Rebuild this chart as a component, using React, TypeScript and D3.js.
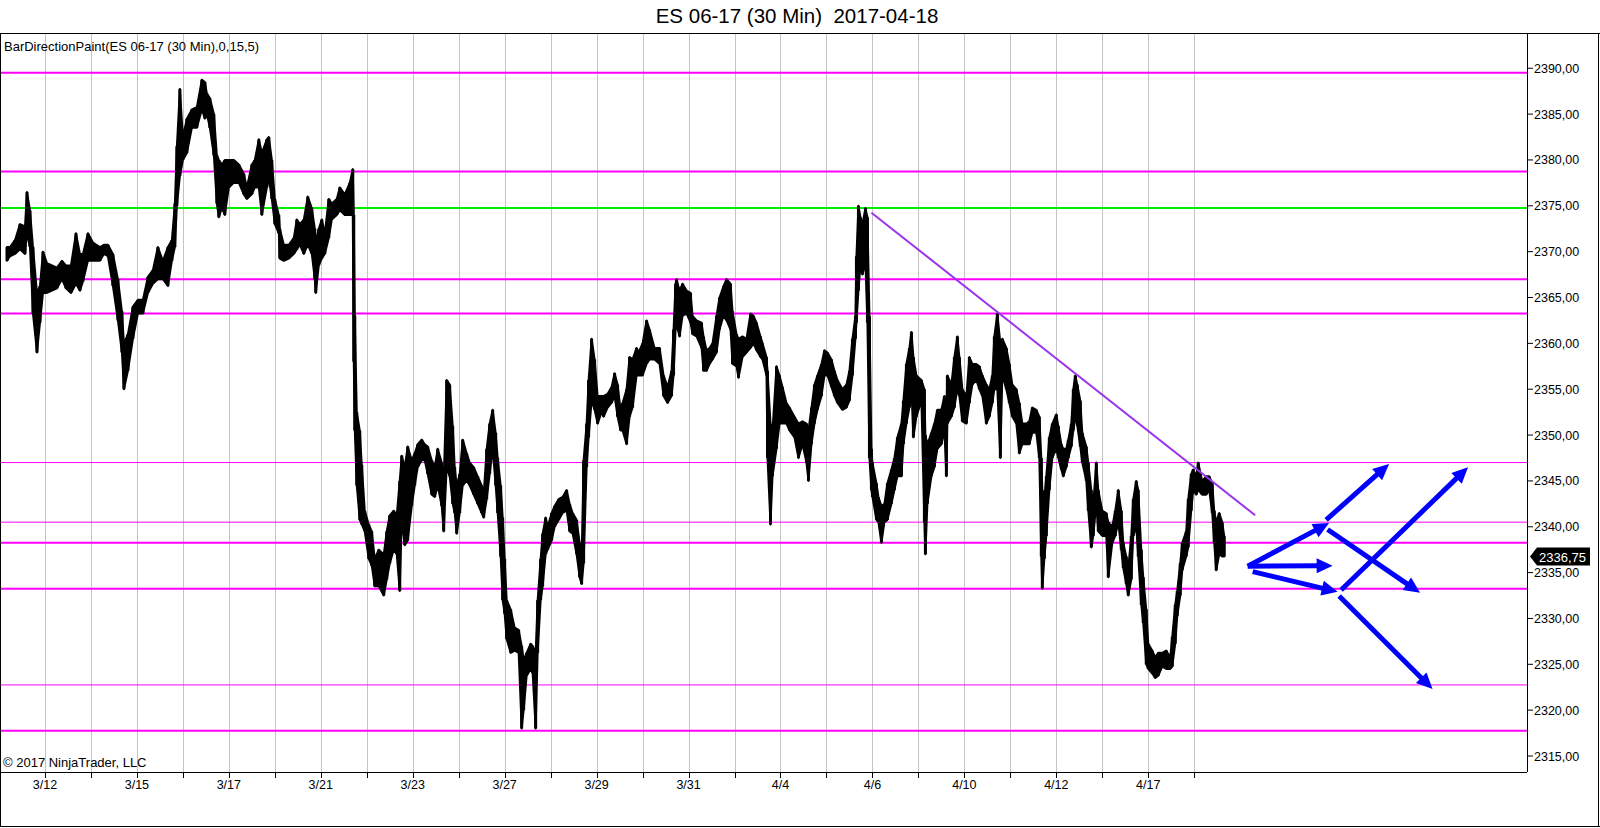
import React from "react";
import * as d3 from "d3";

const title = "ES 06-17 (30 Min)  2017-04-18";
const indicatorLabel = "BarDirectionPaint(ES 06-17 (30 Min),0,15,5)";
const copyright = "© 2017 NinjaTrader, LLC";

// price samples: [bar number (30 min bars from start), high, low]
const wk1: [number, number, number][] = [
  [2, 2370.5, 2369], [5, 2370.5, 2369.5], [10, 2371.25, 2369.75], [15, 2373, 2370.25],
  [20, 2372.75, 2369.75], [22, 2376.5, 2372], [25, 2374.5, 2370.5], [28, 2370.5, 2363.25],
  [32, 2365.5, 2359], [35, 2366.25, 2362.25], [38, 2370, 2365.5], [42, 2368.75, 2365.5],
  [47, 2368.5, 2365.75], [52, 2368.25, 2366], [57, 2369, 2367], [61, 2368.5, 2366],
  [66, 2368.5, 2365.5], [71, 2372, 2366.5], [75, 2369.75, 2365.75], [78, 2369.75, 2366.75],
  [83, 2372, 2369], [88, 2371, 2369], [95, 2370.5, 2369], [99, 2370.75, 2369.75],
  [103, 2370.75, 2369.5], [108, 2369.75, 2366.25], [113, 2367, 2362.5], [117, 2363.5, 2359],
  [119, 2360, 2355], [123, 2361, 2357], [128, 2364, 2360.5], [133, 2364.75, 2363.25],
  [138, 2364.75, 2363.25], [143, 2367.25, 2365.5], [148, 2368, 2366.5], [153, 2370.5, 2367],
  [158, 2369, 2367], [163, 2370.5, 2366.25], [167, 2371.25, 2369], [170, 2375.25, 2370.5],
  [172, 2381.5, 2375], [175, 2387.75, 2378.25], [178, 2382.5, 2380], [182, 2384.5, 2380.75],
  [187, 2385.5, 2383.5], [192, 2385.75, 2383.5], [197, 2388.75, 2385.5], [200, 2388.5, 2384.5],
  [202, 2387.25, 2385], [205, 2386.75, 2383.5], [209, 2385, 2380.5], [212, 2380.5, 2375.25],
  [214, 2380, 2373.75], [217, 2379.5, 2374.75], [220, 2380, 2374], [224, 2380, 2377],
  [229, 2380, 2377.5], [234, 2379.5, 2377.5], [239, 2378.5, 2376.25], [242, 2377, 2375.75],
  [247, 2379.5, 2376.25], [250, 2380, 2377], [254, 2382.25, 2377], [257, 2380.75, 2374],
  [262, 2382.25, 2377], [264, 2382.5, 2378], [267, 2380, 2375.75],
];

const wk2: [number, number, number][] = [
  [270, 2375.75, 2373], [274, 2374, 2372], [275, 2372.5, 2369.25], [279, 2370.75, 2369],
  [284, 2370.75, 2369.25], [289, 2371.5, 2369.75], [292, 2373.5, 2370.25], [295, 2373, 2370.75],
  [299, 2373.5, 2369.75], [303, 2376, 2370.75], [307, 2374.75, 2369.75], [310, 2372.5, 2367],
  [311, 2371, 2365.5], [314, 2372.5, 2368.5], [317, 2373.5, 2369.25], [320, 2372, 2369.75],
  [324, 2375.75, 2371.5], [327, 2375.25, 2373.5], [332, 2375.75, 2374], [335, 2377, 2374.5],
  [340, 2376.25, 2374], [345, 2377.5, 2374], [348, 2379, 2374], [349, 2374, 2358],
  [350, 2363, 2350.5], [352, 2352.5, 2344.5], [355, 2350.5, 2340.75], [357, 2346.75, 2340.25],
  [360, 2341.75, 2339.5], [364, 2340.25, 2336.5], [367, 2339.5, 2335.75], [370, 2336.5, 2333.5],
  [374, 2337.5, 2333.5], [379, 2337, 2332.5], [382, 2339.5, 2334.25], [385, 2341.25, 2336],
  [389, 2341.75, 2337.5], [392, 2341.25, 2337], [395, 2345, 2333], [397, 2347.75, 2340.75],
  [400, 2346.5, 2338], [403, 2348.75, 2338.5], [407, 2347.25, 2342.25], [410, 2348, 2344.5],
  [413, 2349, 2346.5], [417, 2349.5, 2347.25], [420, 2349, 2347.25], [423, 2348.75, 2345.75],
  [427, 2347.25, 2343.5], [430, 2346.5, 2343.25], [433, 2348.5, 2344.5], [437, 2347, 2342.25],
  [439, 2345, 2339.5], [442, 2356, 2346.5], [445, 2355.5, 2345.5], [448, 2351, 2342.5],
  [450, 2346.5, 2341.5], [452, 2344.5, 2339.25], [455, 2345.75, 2341.5], [458, 2349.5, 2344.5],
  [462, 2348, 2345], [465, 2347, 2344.5], [469, 2346.5, 2343.5], [473, 2345.5, 2342.5],
  [477, 2344.5, 2341.5], [479, 2343.5, 2341], [482, 2348.5, 2343], [485, 2351.25, 2345.75],
  [488, 2352.75, 2348.5], [491, 2350.25, 2344.5], [493, 2347.5, 2341.5], [496, 2344.5, 2336.75],
  [498, 2341, 2332],
];

const wk3: [number, number, number][] = [
  [500, 2336.5, 2330.5], [502, 2332, 2327.75], [506, 2331, 2326.25], [510, 2329, 2326.5],
  [514, 2328.75, 2326.25], [517, 2327, 2318], [519, 2325.5, 2320], [522, 2326.25, 2323.75],
  [526, 2327.25, 2324.5], [528, 2327, 2324], [531, 2326.25, 2318], [533, 2332, 2326.25],
  [536, 2336.5, 2332], [538, 2339.25, 2333.5], [541, 2341, 2337], [543, 2340, 2337.5],
  [547, 2341.5, 2338.5], [550, 2342.25, 2340], [554, 2343, 2340.75], [558, 2343.25, 2341.5],
  [562, 2344, 2341.75], [565, 2342.5, 2339.5], [568, 2341.5, 2339.25], [572, 2340.75, 2337],
  [575, 2338.25, 2334.5], [577, 2336.5, 2333.75], [579, 2347.25, 2336], [582, 2351.25, 2346.5],
  [584, 2356, 2349.75], [587, 2360.5, 2353.75], [590, 2358.25, 2352.75], [593, 2354.25, 2351.25],
  [597, 2354.25, 2352.5], [599, 2354.25, 2352], [603, 2354.5, 2353], [607, 2355.25, 2353.5],
  [610, 2356.75, 2354.25], [613, 2355.5, 2352], [616, 2352.75, 2350.5], [618, 2353.5, 2350.5],
  [622, 2355, 2349], [625, 2358.5, 2352], [628, 2358.25, 2353], [632, 2359.5, 2356.5],
  [634, 2359, 2356.5], [638, 2360, 2356.5], [642, 2362.5, 2357.75], [645, 2361.5, 2358.25],
  [650, 2359.5, 2358.25], [655, 2359.5, 2357.75], [659, 2356.5, 2354.25], [663, 2355.25, 2353.5],
  [667, 2357, 2354.25], [669, 2361.5, 2356.5], [671, 2366.5, 2361.5], [672, 2367, 2362],
  [675, 2365.75, 2360.75], [678, 2366.5, 2363], [682, 2365.75, 2363.25], [686, 2365.5, 2362.25],
  [688, 2363, 2361], [692, 2362.5, 2360.75], [697, 2362.25, 2359.5], [699, 2360.75, 2357],
  [702, 2359.25, 2357], [705, 2359.5, 2357.75], [708, 2360, 2358.25], [712, 2363, 2359],
  [715, 2365, 2361.5], [719, 2366.25, 2363], [722, 2367, 2362.5], [726, 2366.5, 2361.5],
  [728, 2363.5, 2357.75],
];

const wk4: [number, number, number][] = [
  [732, 2361, 2357.5], [734, 2360.5, 2356.25], [738, 2360.75, 2358.5], [742, 2360.5, 2359],
  [746, 2363.25, 2359.5], [749, 2363, 2360], [752, 2362.25, 2359.25], [756, 2360.75, 2358.5],
  [758, 2360, 2358.25], [762, 2358.5, 2356.5], [763, 2357, 2347.5], [766, 2351.25, 2340.25],
  [768, 2350.5, 2345.5], [772, 2357.5, 2348.5], [775, 2356.5, 2351.25], [778, 2355.25, 2351.25],
  [782, 2353.5, 2351.25], [785, 2353, 2350.5], [790, 2352, 2349.75], [794, 2351.25, 2347.5],
  [798, 2351.5, 2349], [802, 2351.25, 2347], [804, 2350.5, 2345], [807, 2353, 2349],
  [810, 2355.5, 2351.25], [813, 2356.5, 2352.75], [817, 2357.75, 2354.25], [820, 2359.25, 2356.5],
  [823, 2359, 2356.5], [827, 2358.25, 2355.25], [830, 2357, 2354.25], [833, 2356, 2353.5],
  [838, 2355, 2352.75], [842, 2355.5, 2353], [845, 2357, 2353.75], [848, 2360.5, 2356.5],
  [851, 2363, 2360.5], [852, 2369.5, 2362.25], [854, 2375, 2365.75], [856, 2373.75, 2368.5],
  [858, 2373, 2367.5], [861, 2374.75, 2368.75], [863, 2373.75, 2362.25], [865, 2363, 2347.5],
  [867, 2348.5, 2344], [868, 2347, 2343.25], [872, 2344.75, 2340.75], [874, 2343.25, 2340.5],
  [877, 2342.25, 2338.25], [880, 2342.5, 2340.5], [883, 2344.75, 2340.75], [887, 2346.25, 2342.5],
  [890, 2347.5, 2344], [893, 2349.75, 2345.5], [897, 2351.25, 2345.5], [899, 2353.75, 2349],
  [902, 2357.75, 2351.25], [905, 2359.5, 2353], [907, 2361.25, 2355], [909, 2358.5, 2349.75],
  [912, 2356.5, 2352], [917, 2356, 2353.75], [920, 2355, 2340.5], [921, 2350, 2337],
  [923, 2349, 2342.5], [927, 2350.25, 2345.5], [930, 2351.25, 2346.5], [933, 2352.75, 2348.5],
  [937, 2352.75, 2349], [940, 2354.25, 2350.5], [942, 2353, 2345.5], [943, 2356.5, 2351.25],
  [947, 2355.5, 2352], [950, 2358.5, 2353], [953, 2360.75, 2355], [955, 2358.5, 2354.25],
  [958, 2355, 2351.5],
];

const wk5: [number, number, number][] = [
  [962, 2354.25, 2351.25], [965, 2358.5, 2353.5], [968, 2357.75, 2355.5], [972, 2357.75, 2356],
  [975, 2357.5, 2355], [978, 2356.5, 2354.25], [982, 2355.5, 2351.25], [985, 2355, 2352],
  [988, 2356.5, 2353.5], [990, 2360.75, 2355], [993, 2363.25, 2355], [996, 2360, 2347.5],
  [998, 2360.5, 2356.5], [1002, 2359.5, 2355], [1005, 2357.75, 2353.5], [1008, 2355.5, 2352],
  [1012, 2355, 2351.25], [1015, 2353.5, 2348], [1018, 2351.25, 2349], [1022, 2351.25, 2349],
  [1025, 2351.5, 2349], [1028, 2353, 2350.25], [1032, 2352.75, 2350.25], [1035, 2352, 2347.5],
  [1037, 2347.5, 2336.75], [1038, 2344, 2333.25], [1040, 2343, 2336.5], [1042, 2345.5, 2339],
  [1045, 2349.75, 2344], [1048, 2351.25, 2347.5], [1052, 2352.25, 2348.5], [1054, 2351, 2347.5],
  [1057, 2349, 2346.25], [1059, 2348.5, 2345.5], [1062, 2348.5, 2346.5], [1064, 2349.5, 2347.5],
  [1067, 2351.25, 2348.75], [1069, 2355, 2350.5], [1071, 2356.5, 2352], [1073, 2355.5, 2351],
  [1076, 2353.75, 2348.75], [1078, 2350.25, 2347], [1082, 2348.75, 2345], [1084, 2347, 2341.75],
  [1087, 2344, 2337.75], [1089, 2342.5, 2339], [1092, 2347, 2342.5], [1094, 2344, 2339.5],
  [1098, 2341.75, 2339], [1102, 2341.5, 2339], [1104, 2340.5, 2334.5], [1108, 2340, 2338.25],
  [1111, 2341.75, 2339], [1114, 2344, 2340.5], [1117, 2341.75, 2337.5], [1119, 2338.25, 2335.5],
  [1122, 2336.75, 2333.75], [1124, 2335.5, 2332.5], [1127, 2339, 2334.25], [1129, 2343, 2339],
  [1132, 2345, 2340], [1134, 2344, 2336.75], [1137, 2337.5, 2331.5], [1139, 2334.5, 2329.5],
  [1142, 2331, 2325], [1144, 2327.25, 2324.5], [1148, 2326.5, 2324], [1151, 2325.75, 2323.5],
  [1154, 2326.25, 2323.75], [1158, 2326.25, 2324.75], [1162, 2326.5, 2324.5], [1166, 2325.75, 2324.5],
  [1168, 2328, 2324.75], [1171, 2331.5, 2327.25], [1173, 2333, 2330.25], [1176, 2336, 2332.5],
  [1178, 2338.25, 2335.25], [1182, 2339.5, 2336.75], [1184, 2343, 2337.75], [1187, 2345.75, 2341.75],
  [1189, 2346.25, 2344], [1192, 2345.5, 2343.5], [1194, 2347, 2344], [1198, 2345, 2343.5],
  [1202, 2345.5, 2343.5], [1205, 2345.5, 2344], [1208, 2344.75, 2341.5], [1210, 2341.75, 2338.25],
  [1212, 2340.5, 2335.25], [1215, 2341.5, 2337], [1218, 2340.5, 2336.75], [1220, 2339, 2336.75],
];

const lastPrice = 2336.75;

// horizontal levels drawn on the chart: [price, line width]
const magentaLevels: [number, number][] = [
  [2389.5, 2], [2378.75, 2], [2367, 2], [2363.25, 2], [2347, 1],
  [2340.5, 1], [2338.25, 2], [2333.25, 2], [2322.75, 1], [2317.75, 2],
];
const greenLevel = 2374.75;

const trendBars = [867, 1251];
const trendPrices = [2374.25, 2341.25];

// hand drawn arrows: [bar from, price from, bar to, price to]
const arrows: [number, number, number, number][] = [
  [1243.5, 2335.7, 1325, 2340.4],
  [1243.5, 2335.7, 1328.5, 2335.75],
  [1248.5, 2335.1, 1333.5, 2332.9],
  [1322, 2340.75, 1385, 2346.85],
  [1323.5, 2339.7, 1416, 2332.8],
  [1337, 2333.1, 1464, 2346.5],
  [1335, 2332.45, 1428.5, 2322.3],
];

const dateLabels = ["3/12", "3/15", "3/17", "3/21", "3/23", "3/27", "3/29", "3/31", "4/4", "4/6", "4/10", "4/12", "4/17"];
const sessionCount = 26;
const firstSessionBar = 40;
const barsPerSession = 46;
const priceTicks = d3.range(2315, 2391, 5);

const W = 1600;
const H = 828;
const plotRight = 1527;
const plotTop = 33;
const plotBottom = 772;
const font = "'Liberation Sans', Arial, sans-serif";

export default function App() {
  const bars = [...wk1, ...wk2, ...wk3, ...wk4, ...wk5];
  const x = d3.scaleLinear().domain([-5, 1524]).range([0, 1528]);
  const y = d3.scaleLinear().domain([2315, 2390]).range([756, 68.25]);

  const band = d3
    .area<[number, number, number]>()
    .x((d) => x(d[0]))
    .y0((d) => y(d[2]))
    .y1((d) => y(d[1]));

  const sessions = d3.range(sessionCount).map((k) => firstSessionBar + k * barsPerSession);
  const fmt = (v: number) => d3.format(".2f")(v).replace(".", ",");
  const ly = y(lastPrice);

  return (
    <svg width={W} height={H} style={{ position: "absolute", left: 0, top: 0, background: "#fff" }} fontFamily={font}>
      <defs>
        <clipPath id="plot">
          <rect x={0} y={plotTop} width={plotRight} height={plotBottom - plotTop} />
        </clipPath>
      </defs>
      <rect x={0} y={0} width={W} height={H} fill="#fff" />
      <text x={797} y={23} textAnchor="middle" fontSize={20.5} style={{ whiteSpace: "pre" }}>
        {title}
      </text>

      {/* vertical session grid */}
      {sessions.map((b, i) => (
        <g key={i}>
          <line x1={Math.round(x(b)) + 0.5} x2={Math.round(x(b)) + 0.5} y1={plotTop} y2={plotBottom} stroke="#c4c4c4" />
          <line x1={Math.round(x(b)) + 0.5} x2={Math.round(x(b)) + 0.5} y1={plotBottom} y2={plotBottom + 6} stroke="#000" />
          {i % 2 === 0 && dateLabels[i / 2] && (
            <text x={x(b)} y={789} textAnchor="middle" fontSize={12.5}>
              {dateLabels[i / 2]}
            </text>
          )}
        </g>
      ))}

      <g clipPath="url(#plot)">
        {magentaLevels.map(([p, w], i) => (
          <line key={i} x1={0} x2={plotRight} y1={y(p)} y2={y(p)} stroke="#ff00ff" strokeWidth={w} />
        ))}
        <line x1={0} x2={plotRight} y1={y(greenLevel)} y2={y(greenLevel)} stroke="#00ee00" strokeWidth={2} />

        <path d={band(bars) as string} fill="#000" stroke="#000" strokeWidth={2} strokeLinejoin="round" />
        {bars.map((d, i) => (
          <line key={i} x1={x(d[0])} x2={x(d[0])} y1={y(d[1])} y2={y(d[2])} stroke="#000" strokeWidth={3} />
        ))}

        <line
          x1={x(trendBars[0])}
          y1={y(trendPrices[0])}
          x2={x(trendBars[1])}
          y2={y(trendPrices[1])}
          stroke="#9933ee"
          strokeWidth={2}
        />

        {arrows.map(([b0, p0, b1, p1], i) => {
          const x0 = x(b0), y0 = y(p0), x1 = x(b1), y1 = y(p1);
          const a = Math.atan2(y1 - y0, x1 - x0);
          const hl = 16, hw = 7.5;
          const bx = x1 - hl * Math.cos(a), by = y1 - hl * Math.sin(a);
          const pts = [
            [x1, y1],
            [bx - hw * Math.sin(a), by + hw * Math.cos(a)],
            [bx + hw * Math.sin(a), by - hw * Math.cos(a)],
          ];
          return (
            <g key={i}>
              <line x1={x0} y1={y0} x2={bx + 2 * Math.cos(a)} y2={by + 2 * Math.sin(a)} stroke="#0000ff" strokeWidth={5} />
              <polygon points={pts.map((p) => p.join(",")).join(" ")} fill="#0000ff" />
            </g>
          );
        })}
      </g>

      <text x={4} y={51} fontSize={13}>{indicatorLabel}</text>
      <text x={3} y={767} fontSize={13}>{copyright}</text>

      {/* price axis */}
      {priceTicks.map((p) => (
        <g key={p}>
          <line x1={plotRight} x2={plotRight + 6} y1={y(p)} y2={y(p)} stroke="#000" />
          <text x={plotRight + 7} y={y(p) + 4.5} fontSize={12.5}>
            {fmt(p)}
          </text>
        </g>
      ))}
      <polygon
        points={`${plotRight + 3},${ly} ${plotRight + 10},${ly - 9} 1590,${ly - 9} 1590,${ly + 9} ${plotRight + 10},${ly + 9}`}
        fill="#000"
      />
      <text x={plotRight + 12} y={ly + 5} fontSize={13} fill="#fff">
        {fmt(lastPrice)}
      </text>

      {/* frames */}
      <line x1={plotRight + 0.5} x2={plotRight + 0.5} y1={plotTop} y2={plotBottom} stroke="#000" />
      <line x1={0} x2={plotRight} y1={plotBottom + 0.5} y2={plotBottom + 0.5} stroke="#000" />
      <line x1={0} x2={W} y1={plotTop + 0.5} y2={plotTop + 0.5} stroke="#000" />
      <line x1={0.5} x2={0.5} y1={plotTop} y2={H - 1} stroke="#000" />
      <line x1={W - 1.5} x2={W - 1.5} y1={plotTop} y2={H - 1} stroke="#000" />
      <line x1={0} x2={W} y1={H - 1.5} y2={H - 1.5} stroke="#000" />
    </svg>
  );
}
